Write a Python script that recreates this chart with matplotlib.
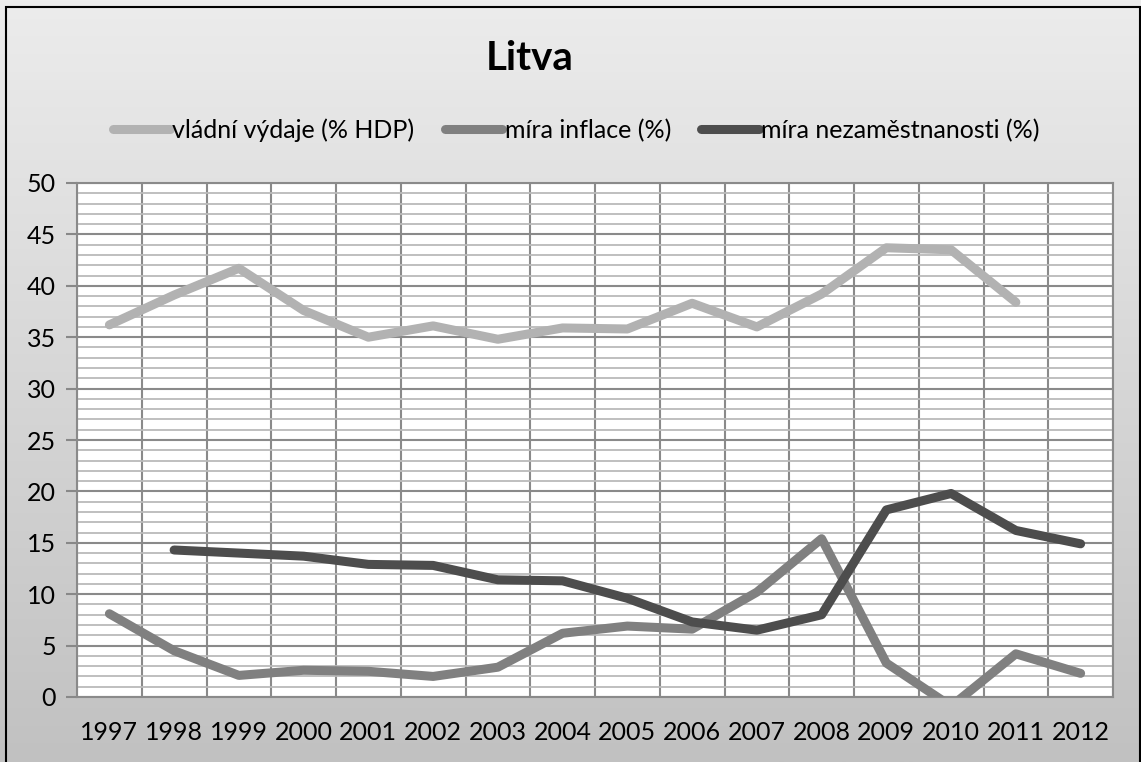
import numpy as np
import matplotlib
matplotlib.use("Agg")
import matplotlib.pyplot as plt
from matplotlib.patches import Rectangle

plt.rcParams['font.family'] = ['Lato', 'DejaVu Sans']

years = ["1997", "1998", "1999", "2000", "2001", "2002", "2003", "2004",
         "2005", "2006", "2007", "2008", "2009", "2010", "2011", "2012"]
vydaje = [36.2, 39.1, 41.7, 37.6, 35.0, 36.1, 34.8, 35.9,
          35.8, 38.3, 36.0, 39.2, 43.7, 43.5, 38.4, np.nan]
inflace = [8.1, 4.5, 2.1, 2.6, 2.5, 2.0, 2.9, 6.2,
           6.9, 6.6, 10.2, 15.4, 3.3, -0.9, 4.2, 2.3]
nezam = [np.nan, 14.3, 14.0, 13.7, 12.9, 12.8, 11.4, 11.3,
         9.6, 7.3, 6.5, 8.0, 18.2, 19.8, 16.2, 14.9]

series = [
    ("vládní výdaje (% HDP)", vydaje, "#b2b2b2"),
    ("míra inflace (%)", inflace, "#808080"),
    ("míra nezaměstnanosti (%)", nezam, "#4d4d4d"),
]

W, H = 1141, 762
fig = plt.figure(figsize=(W / 100, H / 100), dpi=100)

# background gradient + frame
bg = fig.add_axes([0, 0, 1, 1], zorder=-10)
grad = np.linspace(0, 1, 256).reshape(-1, 1)
bg.imshow(grad, aspect="auto", cmap=matplotlib.colors.LinearSegmentedColormap.from_list(
    "g", ["#ececec", "#c1c1c1"]), extent=[0, 1, 0, 1], origin="upper")
bg.add_patch(Rectangle((6 / W, -0.01), (W - 7) / W, 1 - 7 / H + 0.01,
                       fill=False, edgecolor="black", lw=1.5))
bg.set_xlim(0, 1)
bg.set_ylim(0, 1)
bg.axis("off")

ax = fig.add_axes([77 / W, (H - 697) / H, (1113 - 77) / W, (697 - 183) / H])
ax.set_facecolor("white")
x = np.arange(len(years))
handles = []
for label, vals, col in series:
    ln, = ax.plot(x, vals, color=col, lw=6.5, solid_capstyle="round",
                  solid_joinstyle="round", label=label, zorder=3)
    handles.append(ln)

ax.set_xlim(-0.5, len(years) - 0.5)
ax.set_ylim(0, 50)
ax.set_xticks(x)
ax.set_xticklabels(years)
ax.set_xticks(np.arange(len(years) + 1) - 0.5, minor=True)
ax.set_yticks(np.arange(0, 51, 5))
ax.set_yticks(np.arange(0, 51, 1), minor=True)
ax.tick_params(axis="x", which="both", length=0, labelsize=18, pad=17)
ax.tick_params(axis="y", which="major", length=8, color="#888888", width=1.5,
               labelsize=18, pad=7)
ax.tick_params(axis="y", which="minor", length=0)
ax.grid(axis="y", which="minor", color="#bababa", lw=1.3, zorder=0)
ax.grid(axis="y", which="major", color="#8a8a8a", lw=1.5, zorder=1)
ax.grid(axis="x", which="minor", color="#8a8a8a", lw=1.5, zorder=1)
ax.grid(axis="x", which="major", visible=False)
for s in ax.spines.values():
    s.set_color("#8a8a8a")
    s.set_linewidth(1.5)

fig.text(530 / W, 1 - 58 / H, "Litva", ha="center", va="center",
         fontsize=29, fontweight="bold")
leg = fig.legend(handles=handles, loc="center", bbox_to_anchor=(576 / W, 1 - 130 / H),
                 ncol=3, frameon=False, fontsize=18, handlelength=2.3,
                 handletextpad=0.1, columnspacing=1.2)

fig.savefig("out.png", dpi=100)
